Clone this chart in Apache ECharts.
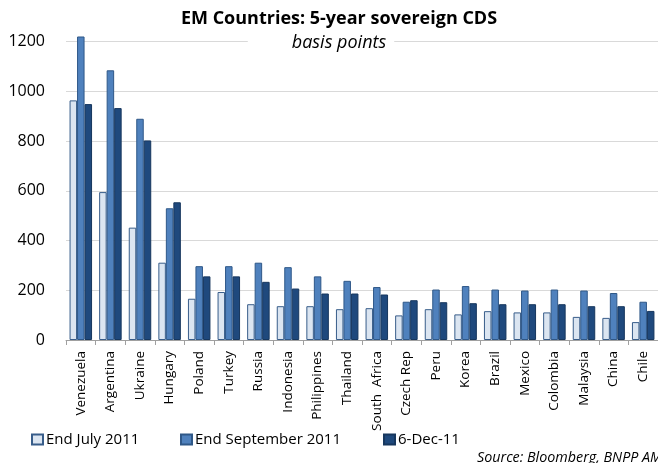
<!DOCTYPE html>
<html>
<head>
<meta charset="utf-8">
<script src="https://cdn.jsdelivr.net/npm/echarts@6/dist/echarts.min.js"></script>
<style>
  html, body { margin: 0; padding: 0; background: #fff; overflow: hidden; }
  /* the plot's 1400 line sits just above the visible frame */
  #chart { width: 658px; height: 471px; margin-top: -8px; }
</style>
</head>
<body>
<div id="chart"></div>
<script>
// 5-year sovereign CDS spreads, basis points
const countries = ['Venezuela', 'Argentina', 'Ukraine', 'Hungary', 'Poland', 'Turkey', 'Russia',
  'Indonesia', 'Philippines', 'Thailand', 'South  Africa', 'Czech Rep', 'Peru', 'Korea', 'Brazil',
  'Mexico', 'Colombia', 'Malaysia', 'China', 'Chile'];
const endJuly2011 = [964, 595, 452, 311, 166, 193, 144, 136, 136, 124, 128, 99, 124, 103, 116, 111, 111, 93, 89, 72];
const endSept2011 = [1221, 1085, 890, 530, 297, 297, 311, 293, 256, 238, 213, 154, 203, 217, 203, 199, 203, 199, 189, 154];
const dec6_2011 = [949, 933, 803, 554, 256, 256, 234, 207, 187, 187, 183, 160, 152, 148, 144, 144, 144, 136, 136, 117];
const seriesNames = ['End July 2011', 'End September 2011', '6-Dec-11'];
const yTicks = [0, 200, 400, 600, 800, 1000, 1200, 1400];

const FONT = '"Open Sans", Lato, sans-serif';
const OFF = 8; // container starts 8px above the page
const chart = echarts.init(document.getElementById('chart'), null, { renderer: 'canvas' });

const barStyles = [
  { color: '#dbe5f1', borderColor: '#385d8a' },
  { color: '#4f81bd', borderColor: '#2f5888' },
  { color: '#1f497d', borderColor: '#17375e' }
];
const values = [endJuly2011, endSept2011, dec6_2011];
const legendLeft = [31, 180, 383];

chart.setOption({
  animation: false,
  textStyle: { fontFamily: FONT },
  title: [
    {
      text: 'EM Countries: 5-year sovereign CDS',
      left: 339, top: 10 + OFF, textAlign: 'center', padding: 0,
      textStyle: { fontFamily: FONT, fontWeight: 'bold', fontSize: 18, color: '#000' }
    },
    {
      text: 'basis points',
      left: 295, top: 33 + OFF, textAlign: 'center',
      backgroundColor: '#fff',
      padding: [1, 8, 1, 44],
      textStyle: { fontFamily: FONT, fontStyle: 'italic', fontWeight: 'normal', fontSize: 18, color: '#000' }
    }
  ],
  legend: seriesNames.map((name, i) => ({
    left: legendLeft[i], top: 432 + OFF, padding: 0,
    itemWidth: 11, itemHeight: 10,
    icon: 'rect',
    textStyle: { fontFamily: FONT, fontSize: 15, color: '#000', padding: [0, 0, 0, -2] },
    data: [name]
  })),
  grid: { left: 66, right: -2, top: 0, bottom: 123, containLabel: false },
  xAxis: {
    type: 'category',
    data: countries,
    axisLine: { show: true, lineStyle: { color: '#a0a0a0', width: 1 } },
    axisTick: { show: true, length: 5, lineStyle: { color: '#a0a0a0' } },
    axisLabel: { rotate: 90, interval: 0, margin: 11, fontSize: 13.5, color: '#000', fontFamily: FONT }
  },
  yAxis: {
    type: 'value',
    min: yTicks[0], max: yTicks[yTicks.length - 1], interval: 200,
    axisLine: { show: false },
    axisTick: { show: false },
    axisLabel: {
      fontSize: 16, color: '#000', margin: 21, showMaxLabel: false, fontFamily: FONT,
      formatter: v => String(v)
    },
    splitLine: { show: true, lineStyle: { color: '#d9d9d9', width: 1 } }
  },
  series: seriesNames.map((name, i) => ({
    name,
    type: 'bar',
    data: values[i],
    barGap: '0%',
    barCategoryGap: '24%',
    itemStyle: { color: barStyles[i].color, borderColor: barStyles[i].borderColor, borderWidth: 1 }
  })),
  graphic: [
    {
      type: 'text', left: 477, top: 451 + OFF,
      style: {
        text: 'Source: Bloomberg, BNPP AM',
        font: 'italic 14.3px ' + FONT, fill: '#000'
      }
    }
  ]
});
</script>
</body>
</html>
